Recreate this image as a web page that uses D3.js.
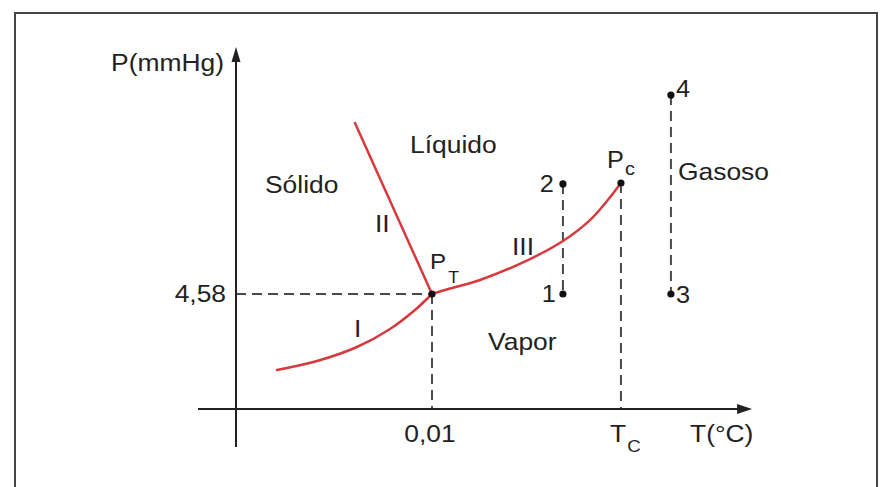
<!DOCTYPE html>
<html>
<head>
<meta charset="utf-8">
<script src="https://cdn.jsdelivr.net/npm/d3@7"></script>
<style>
  html, body { margin: 0; padding: 0; background: #fff; }
  svg { display: block; }
  text { font-family: "Liberation Sans", Arial, Helvetica, sans-serif; fill: #222; }
</style>
</head>
<body>
<svg id="chart" width="881" height="487"></svg>
<script>
// ---- Schematic data (T and P in diagram units: triple point = (1, 1)) ----
const curveI_T   = [0.209, 0.413, 0.617, 0.786, 0.913, 1.000];
const curveI_P   = [0.339, 0.417, 0.539, 0.696, 0.861, 1.000];
const curveII_T  = [1.000, 0.607];
const curveII_P  = [1.000, 2.487];
const curveIII_T = [1.000, 1.066, 1.245, 1.500, 1.668, 1.806, 1.893, 1.964];
const curveIII_P = [1.000, 1.035, 1.122, 1.304, 1.461, 1.643, 1.809, 1.965];

const tripleT = 1.0, tripleP = 1.0;           // P_T
const criticalT = 1.964, criticalP = 1.965;   // P_c

const pointNames = ["1", "2", "3", "4"];
const pointT     = [1.668, 1.668, 2.219, 2.219];
const pointP     = [1.000, 1.957, 1.000, 2.730];

const regionNames = ["Sólido", "Líquido", "Vapor", "Gasoso"];
const regionT     = [0.148, 0.888, 1.286, 2.255];
const regionP     = [1.878, 2.226, 0.513, 1.991];

const curveNames  = ["I", "II", "III"];
const curveLabT   = [0.602, 0.709, 1.408];
const curveLabP   = [0.626, 1.539, 1.339];

const yTickLabel = "4,58";
const xTickLabel = "0,01";
const xAxisTitle = "T(°C)";
const yAxisTitle = "P(mmHg)";
const xDomainExt = [-0.194, 2.633];
const yDomainExt = [-0.330, 3.148];

// ---- Scales ----
const x = d3.scaleLinear().domain([0, 1]).range([236, 432]);
const y = d3.scaleLinear().domain([0, 1]).range([409, 294]);

const svg = d3.select("#chart");
const SX = 1.1; // horizontal stretch of lettering
const FONT = 24;

// frame
svg.append("rect").attr("x", 15).attr("y", 13).attr("width", 862).attr("height", 520)
  .attr("fill", "none").attr("stroke", "#444").attr("stroke-width", 2);

const dashStyle = sel => sel.attr("stroke", "#4a4a4a").attr("stroke-width", 2)
  .attr("stroke-dasharray", "10,6").attr("fill", "none");

// dashed guides
svg.append("line").call(dashStyle)
  .attr("x1", x(0)).attr("y1", y(tripleP)).attr("x2", x(tripleT)).attr("y2", y(tripleP));
svg.append("line").call(dashStyle)
  .attr("x1", x(tripleT)).attr("y1", y(tripleP)).attr("x2", x(tripleT)).attr("y2", y(0));
svg.append("line").call(dashStyle)
  .attr("x1", x(criticalT)).attr("y1", y(criticalP)).attr("x2", x(criticalT)).attr("y2", y(0));
svg.append("line").call(dashStyle)
  .attr("x1", x(pointT[1])).attr("y1", y(pointP[1])).attr("x2", x(pointT[0])).attr("y2", y(pointP[0]));
svg.append("line").call(dashStyle)
  .attr("x1", x(pointT[3])).attr("y1", y(pointP[3])).attr("x2", x(pointT[2])).attr("y2", y(pointP[2]));

// axes with arrows
const axisColor = "#222";
svg.append("line").attr("x1", x(xDomainExt[0])).attr("y1", y(0))
  .attr("x2", x(xDomainExt[1]) - 10).attr("y2", y(0))
  .attr("stroke", axisColor).attr("stroke-width", 2);
svg.append("line").attr("x1", x(0)).attr("y1", y(yDomainExt[0]))
  .attr("x2", x(0)).attr("y2", y(yDomainExt[1]) + 10)
  .attr("stroke", axisColor).attr("stroke-width", 2);
{
  const tx = x(xDomainExt[1]), ty = y(0);
  svg.append("path").attr("d", `M${tx},${ty} L${tx - 15},${ty - 5} L${tx - 15},${ty + 5} Z`).attr("fill", axisColor);
  const ax = x(0), ay = y(yDomainExt[1]);
  svg.append("path").attr("d", `M${ax},${ay} L${ax - 4.5},${ay + 15} L${ax + 4.5},${ay + 15} Z`).attr("fill", axisColor);
}

// curves
const line = d3.line().x(d => x(d[0])).y(d => y(d[1])).curve(d3.curveCatmullRom.alpha(0.5));
const red = "#d8393f";
const drawCurve = (T, P) => svg.append("path")
  .attr("d", line(T.map((t, i) => [t, P[i]])))
  .attr("fill", "none").attr("stroke", red).attr("stroke-width", 2.5).attr("stroke-linecap", "round");
drawCurve(curveI_T, curveI_P);
drawCurve(curveII_T, curveII_P);
drawCurve(curveIII_T, curveIII_P);

// dots
const dots = [[tripleT, tripleP], [criticalT, criticalP]].concat(pointT.map((t, i) => [t, pointP[i]]));
svg.selectAll("circle.pt").data(dots).join("circle").attr("class", "pt")
  .attr("cx", d => x(d[0])).attr("cy", d => y(d[1])).attr("r", 3.6).attr("fill", "#111");

// text helper
function label(px, py, str, size, anchor) {
  return svg.append("text")
    .attr("transform", `translate(${px},${py}) scale(${SX},1)`)
    .attr("text-anchor", anchor || "start")
    .attr("font-size", size).text(str);
}

// region labels
regionNames.forEach((n, i) => label(x(regionT[i]), y(regionP[i]), n, FONT));
// curve labels
curveNames.forEach((n, i) => label(x(curveLabT[i]), y(curveLabP[i]), n, FONT));

// point labels
label(x(pointT[0]) - 7, y(pointP[0]) + 8, pointNames[0], 23, "end");
label(x(pointT[1]) - 9, y(pointP[1]) + 8, pointNames[1], 23, "end");
label(x(pointT[2]) + 5, y(pointP[2]) + 9, pointNames[2], 23);
label(x(pointT[3]) + 5, y(pointP[3]) + 2, pointNames[3], 23);

// P_T
{
  const t = label(x(tripleT) - 2, y(tripleP) - 25, "", 22);
  t.append("tspan").text("P");
  t.append("tspan").attr("font-size", 16).attr("dx", 2).attr("dy", 14).text("T");
}
// P_c
{
  const t = label(x(criticalT) - 14, y(criticalP) - 15, "", 23);
  t.append("tspan").text("P");
  t.append("tspan").attr("font-size", 18).attr("dx", 1).attr("dy", 7).text("c");
}

// axis tick labels
label(x(0) - 10, y(tripleP) + 8, yTickLabel, FONT, "end");
label(x(tripleT) - 2, y(0) + 33, xTickLabel, FONT, "middle");
{
  const t = label(x(criticalT) - 11, y(0) + 33, "", FONT);
  t.append("tspan").text("T");
  t.append("tspan").attr("font-size", 17).attr("dx", 1).attr("dy", 10).text("C");
}
label(x(xDomainExt[1]) - 62, y(0) + 33, xAxisTitle, FONT);
label(x(0) - 12, y(yDomainExt[1]) + 24, yAxisTitle, FONT, "end");
</script>
</body>
</html>
